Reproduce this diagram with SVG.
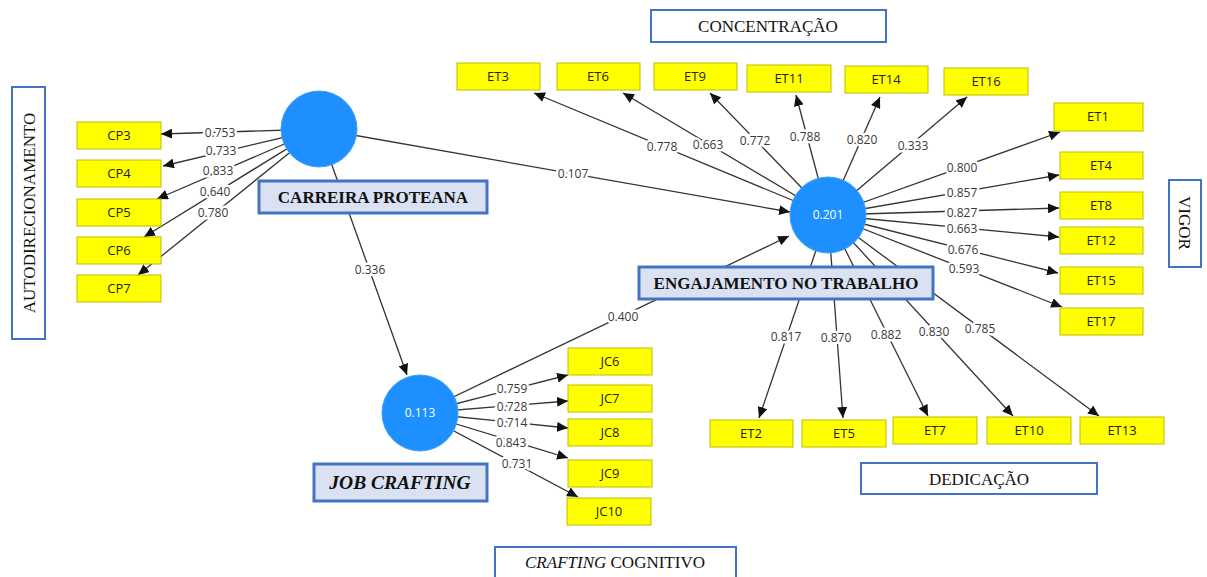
<svg xmlns="http://www.w3.org/2000/svg" width="1207" height="577" viewBox="0 0 1207 577">
  <style>
    .ind rect { fill: #ffff00; stroke: #bdbd00; stroke-width: 1; }
    .ind text { font-family: "Open Sans", "DejaVu Sans", sans-serif; font-size: 13px; fill: #222; text-anchor: middle; }
    .lat circle { fill: #1e8fff; stroke: #3aa0ff; stroke-width: 1; }
    .lat text { font-family: "Open Sans", "DejaVu Sans", sans-serif; font-size: 12px; fill: #ffffff; text-anchor: middle; }
    .title rect { fill: #d9e1f2; stroke: #4472c4; stroke-width: 3; }
    .title text { font-family: "Liberation Serif", "Times New Roman", serif; font-size: 17px; font-weight: bold; fill: #111; text-anchor: middle; }
    .title text.big { font-size: 19.5px; font-style: italic; }
    .dim rect { fill: #ffffff; stroke: #4472c4; stroke-width: 2; }
    .dim text { font-family: "Liberation Serif", "Times New Roman", serif; font-size: 17px; fill: #111; text-anchor: middle; }
    .edge line { stroke: #333; stroke-width: 1.3; marker-end: url(#arrow); }
    .w text { font-family: "Open Sans", "DejaVu Sans", sans-serif; font-size: 12px; fill: #3a3a3a; text-anchor: middle; paint-order: stroke; stroke: #ffffff; stroke-width: 5; stroke-linejoin: round; }
  </style>
  <defs>
    <marker id="arrow" markerUnits="userSpaceOnUse" markerWidth="11" markerHeight="10" refX="11" refY="5" orient="auto">
      <path d="M0,0 L11,5 L0,10 z" fill="#111"/>
    </marker>
  </defs>
  <rect width="1207" height="577" fill="#ffffff"/>

  <!-- connectors -->
  <g id="connectors">
    <g class="edge">
      <!-- Carreira Proteana outer loadings -->
      <line x1="319" y1="129" x2="161" y2="134"/>
      <line x1="319" y1="129" x2="163" y2="166"/>
      <line x1="319" y1="129" x2="157" y2="199"/>
      <line x1="319" y1="129" x2="144" y2="237"/>
      <line x1="319" y1="129" x2="138" y2="275"/>
      <!-- structural paths -->
      <line x1="319" y1="129" x2="790" y2="212"/>
      <line x1="319" y1="129" x2="407" y2="375"/>
      <line x1="420" y1="413" x2="789" y2="236"/>
      <!-- Job Crafting outer loadings -->
      <line x1="420" y1="413" x2="568" y2="375"/>
      <line x1="420" y1="413" x2="568" y2="401"/>
      <line x1="420" y1="413" x2="568" y2="428"/>
      <line x1="420" y1="413" x2="568" y2="458"/>
      <line x1="420" y1="413" x2="578" y2="497"/>
      <!-- Engajamento outer loadings: top -->
      <line x1="828" y1="215" x2="534" y2="93"/>
      <line x1="828" y1="215" x2="623" y2="93"/>
      <line x1="828" y1="215" x2="710" y2="93"/>
      <line x1="828" y1="215" x2="796" y2="95"/>
      <line x1="828" y1="215" x2="880" y2="97"/>
      <line x1="828" y1="215" x2="967" y2="97"/>
      <!-- right -->
      <line x1="828" y1="215" x2="1060" y2="132"/>
      <line x1="828" y1="215" x2="1059" y2="175"/>
      <line x1="828" y1="215" x2="1059" y2="208"/>
      <line x1="828" y1="215" x2="1059" y2="237"/>
      <line x1="828" y1="215" x2="1058" y2="273"/>
      <line x1="828" y1="215" x2="1062" y2="307"/>
      <!-- bottom -->
      <line x1="828" y1="215" x2="759" y2="418"/>
      <line x1="828" y1="215" x2="843" y2="418"/>
      <line x1="828" y1="215" x2="928" y2="416"/>
      <line x1="828" y1="215" x2="1013" y2="416"/>
      <line x1="828" y1="215" x2="1099" y2="416"/>
    </g>
    <g class="w">
      <text x="220" y="137">0.753</text>
      <text x="221" y="155">0.733</text>
      <text x="218" y="175">0.833</text>
      <text x="215" y="196">0.640</text>
      <text x="213" y="217">0.780</text>
      <text x="573" y="178">0.107</text>
      <text x="370" y="274">0.336</text>
      <text x="623" y="321">0.400</text>
      <text x="512" y="393">0.759</text>
      <text x="512" y="411">0.728</text>
      <text x="512" y="427">0.714</text>
      <text x="511" y="447">0.843</text>
      <text x="517" y="468">0.731</text>
      <text x="662" y="151">0.778</text>
      <text x="708" y="149">0.663</text>
      <text x="755" y="145">0.772</text>
      <text x="805" y="141">0.788</text>
      <text x="862" y="144">0.820</text>
      <text x="913" y="150">0.333</text>
      <text x="962" y="172">0.800</text>
      <text x="962" y="197">0.857</text>
      <text x="962" y="217">0.827</text>
      <text x="962" y="233">0.663</text>
      <text x="963" y="254">0.676</text>
      <text x="964" y="273">0.593</text>
      <text x="786" y="341">0.817</text>
      <text x="836" y="342">0.870</text>
      <text x="886" y="339">0.882</text>
      <text x="934" y="336">0.830</text>
      <text x="980" y="333">0.785</text>
    </g>
  </g>

  <!-- latent variables -->
  <g id="carreira-proteana" class="lat">
    <circle cx="319" cy="129" r="38"/>
  </g>
  <g id="engajamento" class="lat">
    <circle cx="828" cy="215" r="38"/>
    <text x="828" y="219">0.201</text>
  </g>
  <g id="job-crafting" class="lat">
    <circle cx="420" cy="413" r="38"/>
    <text x="420" y="417">0.113</text>
  </g>

  <!-- construct titles -->
  <g id="title-carreira" class="title">
    <rect x="259" y="181" width="228" height="32"/>
    <text x="373" y="203">CARREIRA PROTEANA</text>
  </g>
  <g id="title-engajamento" class="title">
    <rect x="639" y="267" width="294" height="32"/>
    <text x="786" y="289">ENGAJAMENTO NO TRABALHO</text>
  </g>
  <g id="title-job-crafting" class="title">
    <rect x="314" y="464" width="173" height="37"/>
    <text class="big" x="400" y="489">JOB CRAFTING</text>
  </g>

  <!-- dimension labels -->
  <g id="dim-concentracao" class="dim">
    <rect x="651" y="10" width="235" height="32"/>
    <text x="768" y="32">CONCENTRAÇÃO</text>
  </g>
  <g id="dim-dedicacao" class="dim">
    <rect x="861" y="463" width="236" height="31"/>
    <text x="979" y="485">DEDICAÇÃO</text>
  </g>
  <g id="dim-crafting-cognitivo" class="dim">
    <rect x="495" y="547" width="241" height="36"/>
    <text x="615" y="568"><tspan font-style="italic">CRAFTING</tspan> COGNITIVO</text>
  </g>
  <g id="dim-autodirecionamento" class="dim">
    <rect x="12" y="87" width="33" height="252"/>
    <text transform="translate(35 213) rotate(-90)">AUTODIRECIONAMENTO</text>
  </g>
  <g id="dim-vigor" class="dim">
    <rect x="1169" y="180" width="32" height="87"/>
    <text transform="translate(1179 223) rotate(90)">VIGOR</text>
  </g>

  <!-- indicators: Carreira Proteana -->
  <g id="CP3" class="ind"><rect x="77" y="122" width="84" height="27"/><text x="119" y="140">CP3</text></g>
  <g id="CP4" class="ind"><rect x="77" y="160" width="84" height="27"/><text x="119" y="178">CP4</text></g>
  <g id="CP5" class="ind"><rect x="77" y="199" width="84" height="27"/><text x="119" y="217">CP5</text></g>
  <g id="CP6" class="ind"><rect x="77" y="237" width="84" height="27"/><text x="119" y="255">CP6</text></g>
  <g id="CP7" class="ind"><rect x="77" y="275" width="84" height="27"/><text x="119" y="293">CP7</text></g>

  <!-- indicators: Job Crafting -->
  <g id="JC6" class="ind"><rect x="568" y="348" width="84" height="27"/><text x="610" y="366">JC6</text></g>
  <g id="JC7" class="ind"><rect x="568" y="385" width="84" height="27"/><text x="610" y="403">JC7</text></g>
  <g id="JC8" class="ind"><rect x="568" y="419" width="84" height="27"/><text x="610" y="437">JC8</text></g>
  <g id="JC9" class="ind"><rect x="568" y="460" width="84" height="27"/><text x="610" y="478">JC9</text></g>
  <g id="JC10" class="ind"><rect x="567" y="498" width="84" height="27"/><text x="609" y="516">JC10</text></g>

  <!-- indicators: Engajamento no Trabalho -->
  <g id="ET3" class="ind"><rect x="457" y="63" width="83" height="27"/><text x="498" y="81">ET3</text></g>
  <g id="ET6" class="ind"><rect x="557" y="63" width="83" height="27"/><text x="598" y="81">ET6</text></g>
  <g id="ET9" class="ind"><rect x="654" y="63" width="83" height="27"/><text x="695" y="81">ET9</text></g>
  <g id="ET11" class="ind"><rect x="747" y="65" width="84" height="27"/><text x="789" y="83">ET11</text></g>
  <g id="ET14" class="ind"><rect x="845" y="66" width="83" height="27"/><text x="886" y="84">ET14</text></g>
  <g id="ET16" class="ind"><rect x="944" y="68" width="84" height="27"/><text x="986" y="86">ET16</text></g>
  <g id="ET1" class="ind"><rect x="1054" y="103" width="89" height="28"/><text x="1098" y="121">ET1</text></g>
  <g id="ET4" class="ind"><rect x="1060" y="152" width="83" height="27"/><text x="1101" y="170">ET4</text></g>
  <g id="ET8" class="ind"><rect x="1060" y="192" width="83" height="27"/><text x="1101" y="210">ET8</text></g>
  <g id="ET12" class="ind"><rect x="1060" y="227" width="83" height="27"/><text x="1101" y="245">ET12</text></g>
  <g id="ET15" class="ind"><rect x="1060" y="267" width="83" height="27"/><text x="1101" y="285">ET15</text></g>
  <g id="ET17" class="ind"><rect x="1060" y="308" width="83" height="27"/><text x="1101" y="326">ET17</text></g>
  <g id="ET2" class="ind"><rect x="710" y="420" width="83" height="27"/><text x="751" y="438">ET2</text></g>
  <g id="ET5" class="ind"><rect x="802" y="420" width="84" height="27"/><text x="844" y="438">ET5</text></g>
  <g id="ET7" class="ind"><rect x="893" y="417" width="84" height="27"/><text x="935" y="435">ET7</text></g>
  <g id="ET10" class="ind"><rect x="987" y="417" width="84" height="27"/><text x="1029" y="435">ET10</text></g>
  <g id="ET13" class="ind"><rect x="1080" y="417" width="84" height="27"/><text x="1122" y="435">ET13</text></g>
</svg>
